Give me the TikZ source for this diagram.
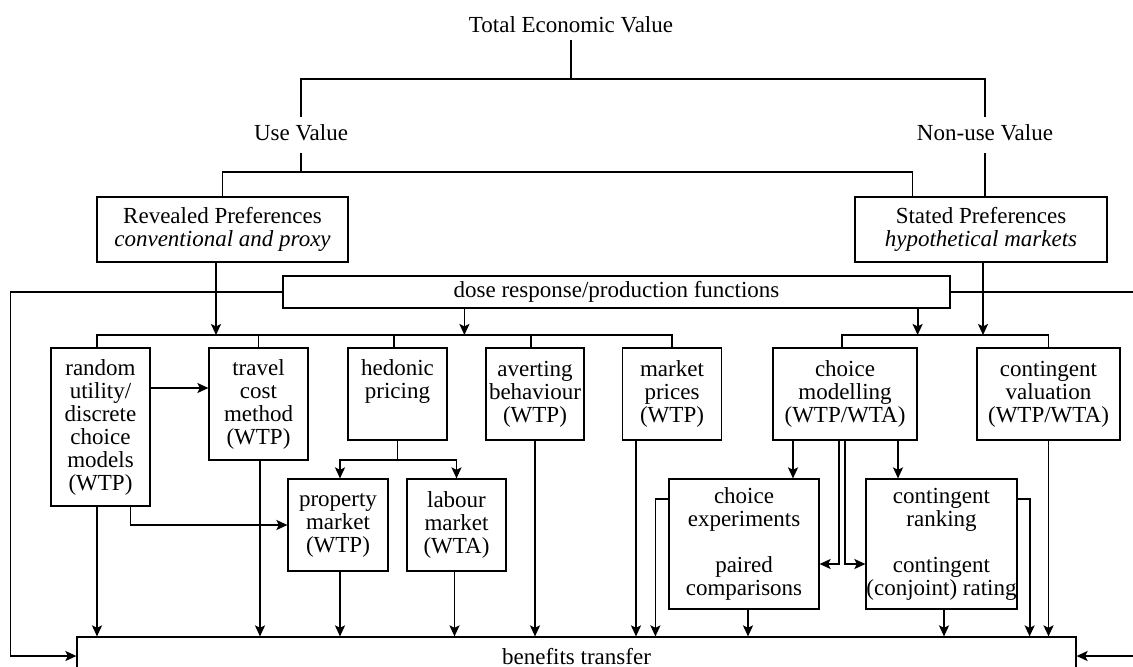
\documentclass[tikz,border=0pt]{standalone}
\usepackage{fontspec}
\setmainfont{Liberation Serif}
\usetikzlibrary{arrows.meta,calc}
\begin{document}
\begin{tikzpicture}[x=0.5pt,y=-0.5pt,
  every node/.style={font=\fontsize{11.5}{11.5}\selectfont},
  bx/.style={draw, line width=0.6pt, inner sep=0pt, align=center},
  lbl/.style={inner xsep=0pt, inner ysep=4pt, text height=7.5pt, text depth=2.5pt},
  ln/.style={line width=0.9pt},
  ar/.style={line width=0.9pt, -{Stealth[length=5.5pt,width=5pt,inset=1.2pt]}}]
\useasboundingbox[fill=white] (0,0) rectangle (1133,666);

% labels
\node[lbl, inner ysep=1.5pt] (tev) at (571,27) {Total Economic Value};
\node[lbl] (uv) at (301,135) {Use Value};
\node[lbl] (nv) at (985,135) {Non-use Value};

% preference boxes
\node[bx, minimum width=125.5pt, minimum height=32.5pt] (rp) at (222.5,229.5) {Revealed Preferences\\\textit{conventional and proxy}};
\node[bx, minimum width=126pt, minimum height=32.5pt] (sp) at (981,229.5) {Stated Preferences\\\textit{hypothetical markets}};
\node[draw, line width=0.6pt, inner sep=0pt, minimum width=333.5pt, minimum height=16pt] (dose) at (616.5,292) {dose response/production functions\hspace{45.5pt}};

% first row
\node[bx, minimum width=49.5pt, minimum height=79pt] (ru) at (100.5,427) {random\\utility/\\discrete\\choice\\models\\(WTP)};
\node[bx, minimum width=49.5pt, minimum height=56pt] (tc) at (258.5,404) {travel\\cost\\method\\(WTP)};
\node[bx, minimum width=49.5pt, minimum height=46pt] (hp) at (397.5,394) {hedonic\\pricing\\\strut};
\node[bx, minimum width=49pt, minimum height=46pt] (ab) at (535,394) {averting\\behaviour\\(WTP)};
\node[bx, minimum width=49.5pt, minimum height=46pt] (mp) at (672,394) {market\\prices\\(WTP)};
\node[bx, minimum width=72pt, minimum height=46pt] (cm) at (845,394) {choice\\modelling\\(WTP/WTA)};
\node[bx, minimum width=71.5pt, minimum height=46pt] (cv) at (1048.5,394) {contingent\\valuation\\(WTP/WTA)};

% second row
\node[bx, minimum width=50pt, minimum height=46pt] (pm) at (338,525) {property\\market\\(WTP)};
\node[bx, minimum width=49.5pt, minimum height=46pt] (lm) at (456.5,525) {labour\\market\\(WTA)};
\node[bx, minimum width=75pt, minimum height=65pt] (ce) at (744,544) {choice\\experiments\\[11.5pt]paired\\comparisons};
\node[bx, minimum width=75.5pt, minimum height=65pt] (cr) at (941.5,544) {contingent\\ranking\\[11.5pt]contingent\\(conjoint) rating};

% benefits transfer
\node[bx, minimum width=499.5pt, minimum height=19pt] (bt) at (576.5,656) {benefits transfer};

% helper coordinates
\coordinate (top) at (571,79);
\coordinate (mid) at (301,172);
\coordinate (bl) at (97,335);
\coordinate (br) at (842,335);
\path ($(dose.south west)+(182,0)$) coordinate (d1);
\path ($(dose.south east)+(-33,0)$) coordinate (d2);

% top tree
\draw[ln] (tev.south) -- (top);
\draw[ln] (uv.north) |- (top) -| (nv.north);
\draw[ln] (uv.south) -- (mid);
\draw[ln] (rp.north) |- (mid) -| ([xshift=29pt]sp.north west);
\draw[ln] (nv.south) -- (nv.south |- sp.north);

% buses
\draw[ln] ([xshift=-1.75pt]ru.north) |- (mp.north |- bl) -- (mp.north);
\draw[ln] (tc.north) -- (tc.north |- bl);
\draw[ln] ([xshift=-1.75pt]hp.north) -- ([xshift=-1.75pt]hp.north |- bl);
\draw[ln] ([xshift=-2pt]ab.north) -- ([xshift=-2pt]ab.north |- bl);
\draw[ln] ([xshift=-1.5pt]cm.north) |- (cv.north |- br) -- (cv.north);

\draw[ar] ([xshift=-3.25pt]rp.south) -- ([xshift=-3.25pt]rp.south |- bl);
\draw[ar] (d1) -- (d1 |- bl);
\draw[ar] (d2) -- (d2 |- br);
\draw[ar] ([xshift=1pt]sp.south) -- ([xshift=1pt]sp.south |- br);

% dose response side lines
\draw[ar] (dose.west) -- ++(-272,0) |- (bt.west);
\draw[ar] (dose.east) -- ++(186,0) |- (bt.east);

% random utility
\draw[ar] ([yshift=19.5pt]ru.east) -- ([yshift=19.5pt]ru.east -| tc.west);
\draw[ar] ([xshift=15pt]ru.south) |- (pm.west);
\draw[ar] ([xshift=-1.75pt]ru.south) -- ([xshift=-1.75pt]ru.south |- bt.north);
\draw[ar] ([xshift=0.75pt]tc.south) -- ([xshift=0.75pt]tc.south |- bt.north);

% hedonic
\draw[ar] (hp.south) -- ++(0,19) -| ([xshift=1pt]pm.north);
\draw[ar] (hp.south) -- ++(0,19) -| (lm.north);
\draw[ar] ([xshift=1pt]pm.south) -- ([xshift=1pt]pm.south |- bt.north);
\draw[ar] ([xshift=-1pt]lm.south) -- ([xshift=-1pt]lm.south |- bt.north);
\draw[ar] (ab.south) -- (ab.south |- bt.north);
\draw[ar] ([xshift=-18pt]mp.south) -- ([xshift=-18pt]mp.south |- bt.north);

% choice modelling
\draw[ar] ([xshift=-26pt]cm.south) -- ([xshift=-26pt]cm.south |- ce.north);
\draw[ar] ([xshift=26.5pt]cm.south) -- ([xshift=26.5pt]cm.south |- cr.north);
\draw[ar] ([xshift=-3pt]cm.south) |- ([yshift=-10pt]ce.east);
\draw[ar] (cm.south) |- ([yshift=-10pt]cr.west);

\path ([yshift=22.5pt]ce.west) ++(-13,0) coordinate (c1);
\path ([yshift=22.5pt]cr.east) ++(12,0) coordinate (c2);
\draw[ar] ([yshift=22.5pt]ce.west) -- (c1) -- (c1 |- bt.north);
\draw[ar] ([yshift=22.5pt]cr.east) -- (c2) -- (c2 |- bt.north);
\draw[ar] ([xshift=2pt]ce.south) -- ([xshift=2pt]ce.south |- bt.north);
\draw[ar] ([xshift=1.25pt]cr.south) -- ([xshift=1.25pt]cr.south |- bt.north);
\draw[ar] (cv.south) -- (cv.south |- bt.north);
\end{tikzpicture}
\end{document}
